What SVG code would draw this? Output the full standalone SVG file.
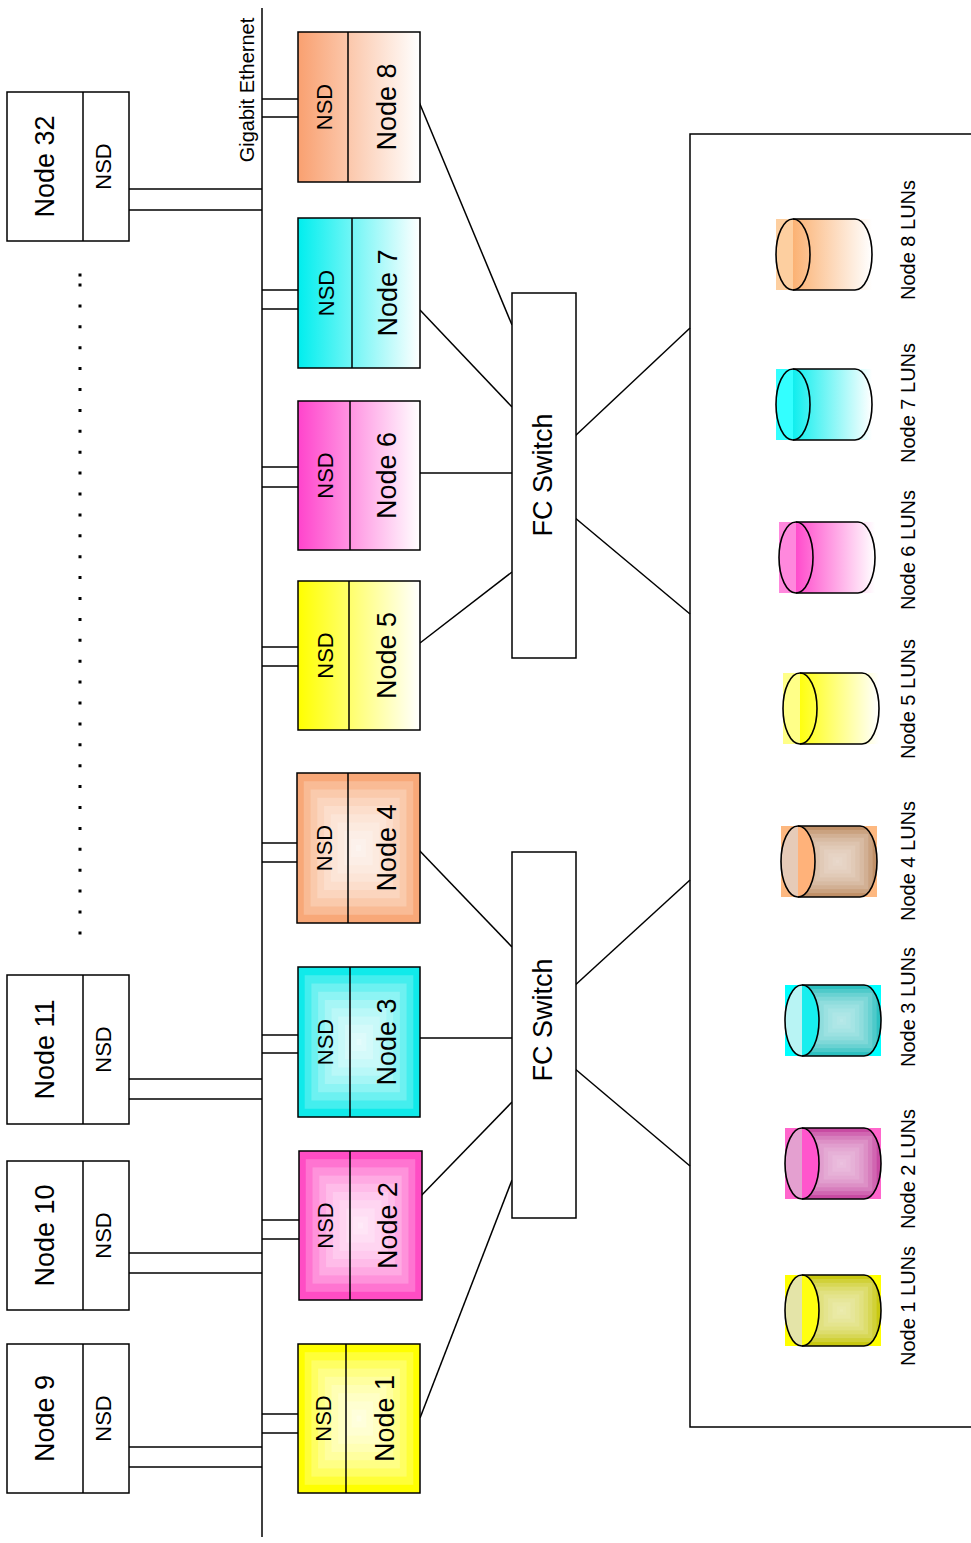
<svg xmlns="http://www.w3.org/2000/svg" width="971" height="1543" viewBox="0 0 971 1543">
<style>
.ln{stroke:#000;stroke-width:1.5;fill:none}
.bx{stroke:#000;stroke-width:1.5}
.ol{stroke:#000;stroke-width:1.6;fill:none}
text{font-family:"Liberation Sans",Arial,sans-serif;fill:#000;text-anchor:middle;dominant-baseline:central}
.t27{font-size:27px}
.t22{font-size:22px}
.t20{font-size:20px}
</style>
<defs>
<linearGradient id="ng8" x1="0" y1="0" x2="1" y2="0"><stop offset="0" stop-color="#f9a070"/><stop offset="1" stop-color="#ffffff"/></linearGradient>
<linearGradient id="ng7" x1="0" y1="0" x2="1" y2="0"><stop offset="0" stop-color="#00eeee"/><stop offset="1" stop-color="#ffffff"/></linearGradient>
<linearGradient id="ng6" x1="0" y1="0" x2="1" y2="0"><stop offset="0" stop-color="#ff44cc"/><stop offset="1" stop-color="#ffffff"/></linearGradient>
<linearGradient id="ng5" x1="0" y1="0" x2="1" y2="0"><stop offset="0" stop-color="#ffff00"/><stop offset="1" stop-color="#ffffff"/></linearGradient>
<linearGradient id="cg8" x1="0" y1="0" x2="1" y2="0"><stop offset="0" stop-color="#fdcfa0"/><stop offset="0.177" stop-color="#fdcfa0"/><stop offset="0.177" stop-color="#fbb274"/><stop offset="1" stop-color="#ffffff"/></linearGradient>
<linearGradient id="cg7" x1="0" y1="0" x2="1" y2="0"><stop offset="0" stop-color="#33ffff"/><stop offset="0.177" stop-color="#33ffff"/><stop offset="0.177" stop-color="#10eeee"/><stop offset="1" stop-color="#ffffff"/></linearGradient>
<linearGradient id="cg6" x1="0" y1="0" x2="1" y2="0"><stop offset="0" stop-color="#ff88dd"/><stop offset="0.177" stop-color="#ff88dd"/><stop offset="0.177" stop-color="#ff4ccc"/><stop offset="1" stop-color="#ffffff"/></linearGradient>
<linearGradient id="cg5" x1="0" y1="0" x2="1" y2="0"><stop offset="0" stop-color="#ffff88"/><stop offset="0.177" stop-color="#ffff88"/><stop offset="0.177" stop-color="#ffff10"/><stop offset="1" stop-color="#ffffff"/></linearGradient>
<g id="pyr" fill="#ffffff" fill-opacity="0.22">
<rect x="5.5" y="5.5" width="89" height="89"/>
<rect x="11" y="11" width="78" height="78"/>
<rect x="16.5" y="16.5" width="67" height="67"/>
<rect x="22" y="22" width="56" height="56"/>
<rect x="27.5" y="27.5" width="45" height="45"/>
<rect x="33" y="33" width="34" height="34"/>
<rect x="38.5" y="38.5" width="23" height="23"/>
<rect x="44" y="44" width="12" height="12"/>
<rect x="48" y="48" width="4" height="4"/>
</g>
<clipPath id="cc4"><path d="M798,826 H860 A17,35.5 0 0 1 860,897 H798 Z"/></clipPath>
<clipPath id="cc3"><path d="M802,985 H864 A17,35.5 0 0 1 864,1056 H802 Z"/></clipPath>
<clipPath id="cc2"><path d="M802,1128 H864 A17,35.5 0 0 1 864,1199 H802 Z"/></clipPath>
<clipPath id="cc1"><path d="M802,1275 H864 A17,35.5 0 0 1 864,1346 H802 Z"/></clipPath>
</defs>
<rect x="0" y="0" width="971" height="1543" fill="#ffffff"/>

<g id="connectors">
<line class="ln" x1="262" y1="8" x2="262" y2="1537"/>
<line class="ln" x1="129" y1="189" x2="262" y2="189"/>
<line class="ln" x1="129" y1="210" x2="262" y2="210"/>
<line class="ln" x1="129" y1="1079" x2="262" y2="1079"/>
<line class="ln" x1="129" y1="1099" x2="262" y2="1099"/>
<line class="ln" x1="129" y1="1253" x2="262" y2="1253"/>
<line class="ln" x1="129" y1="1273" x2="262" y2="1273"/>
<line class="ln" x1="129" y1="1447" x2="262" y2="1447"/>
<line class="ln" x1="129" y1="1467" x2="262" y2="1467"/>
<line class="ln" x1="262" y1="99" x2="298" y2="99"/>
<line class="ln" x1="262" y1="117" x2="298" y2="117"/>
<line class="ln" x1="262" y1="290" x2="298" y2="290"/>
<line class="ln" x1="262" y1="309" x2="298" y2="309"/>
<line class="ln" x1="262" y1="467" x2="298" y2="467"/>
<line class="ln" x1="262" y1="487" x2="298" y2="487"/>
<line class="ln" x1="262" y1="647" x2="298" y2="647"/>
<line class="ln" x1="262" y1="666" x2="298" y2="666"/>
<line class="ln" x1="262" y1="843" x2="297" y2="843"/>
<line class="ln" x1="262" y1="862" x2="297" y2="862"/>
<line class="ln" x1="262" y1="1035" x2="298" y2="1035"/>
<line class="ln" x1="262" y1="1053" x2="298" y2="1053"/>
<line class="ln" x1="262" y1="1220" x2="299" y2="1220"/>
<line class="ln" x1="262" y1="1239" x2="299" y2="1239"/>
<line class="ln" x1="262" y1="1414" x2="298" y2="1414"/>
<line class="ln" x1="262" y1="1433" x2="298" y2="1433"/>
<line class="ln" x1="417" y1="97" x2="512" y2="325"/>
<line class="ln" x1="420" y1="310" x2="512" y2="407"/>
<line class="ln" x1="420" y1="473" x2="512" y2="473"/>
<line class="ln" x1="420" y1="643" x2="512" y2="572"/>
<line class="ln" x1="574" y1="437" x2="690" y2="328"/>
<line class="ln" x1="574" y1="517" x2="690" y2="614"/>
<line class="ln" x1="417" y1="848" x2="512" y2="947"/>
<line class="ln" x1="420" y1="1038" x2="512" y2="1038"/>
<line class="ln" x1="417" y1="1200" x2="512" y2="1102"/>
<line class="ln" x1="420" y1="1418" x2="512" y2="1180"/>
<line class="ln" x1="572" y1="988" x2="690" y2="880"/>
<line class="ln" x1="574" y1="1068" x2="690" y2="1166"/>
</g>

<g id="ethernet-label">
<text class="t20" transform="translate(247,90) rotate(-90)">Gigabit Ethernet</text>
</g>

<g id="ellipsis">
<rect x="78.5" y="273.5" width="3" height="3" fill="#000"/>
<line x1="80" y1="283.5" x2="80" y2="935" stroke="#000" stroke-width="3" stroke-dasharray="3 17.9"/>
</g>

<g id="node32">
<rect class="bx" x="7" y="92" width="122" height="149" fill="#fff"/>
<line class="ln" x1="83" y1="92" x2="83" y2="241"/>
<text class="t27" transform="translate(44.5,166.5) rotate(-90)">Node 32</text>
<text class="t22" transform="translate(103.5,166.5) rotate(-90)">NSD</text>
</g>
<g id="node11">
<rect class="bx" x="7" y="975" width="122" height="149" fill="#fff"/>
<line class="ln" x1="83" y1="975" x2="83" y2="1124"/>
<text class="t27" transform="translate(44.5,1049.5) rotate(-90)">Node 11</text>
<text class="t22" transform="translate(103.5,1049.5) rotate(-90)">NSD</text>
</g>
<g id="node10">
<rect class="bx" x="7" y="1161" width="122" height="149" fill="#fff"/>
<line class="ln" x1="83" y1="1161" x2="83" y2="1310"/>
<text class="t27" transform="translate(44.5,1235.5) rotate(-90)">Node 10</text>
<text class="t22" transform="translate(103.5,1235.5) rotate(-90)">NSD</text>
</g>
<g id="node9">
<rect class="bx" x="7" y="1344" width="122" height="149" fill="#fff"/>
<line class="ln" x1="83" y1="1344" x2="83" y2="1493"/>
<text class="t27" transform="translate(44.5,1418.5) rotate(-90)">Node 9</text>
<text class="t22" transform="translate(103.5,1418.5) rotate(-90)">NSD</text>
</g>

<g id="node8">
<rect class="bx" x="298" y="32" width="122" height="150" fill="url(#ng8)"/>
<line class="ln" x1="348" y1="32" x2="348" y2="182"/>
<text class="t22" transform="translate(324.5,107) rotate(-90)">NSD</text>
<text class="t27" transform="translate(386.5,107) rotate(-90)">Node 8</text>
</g>
<g id="node7">
<rect class="bx" x="298" y="218" width="122" height="150" fill="url(#ng7)"/>
<line class="ln" x1="352" y1="218" x2="352" y2="368"/>
<text class="t22" transform="translate(326.5,293) rotate(-90)">NSD</text>
<text class="t27" transform="translate(388,293) rotate(-90)">Node 7</text>
</g>
<g id="node6">
<rect class="bx" x="298" y="401" width="122" height="149" fill="url(#ng6)"/>
<line class="ln" x1="350" y1="401" x2="350" y2="550"/>
<text class="t22" transform="translate(325.5,475.5) rotate(-90)">NSD</text>
<text class="t27" transform="translate(387,475.5) rotate(-90)">Node 6</text>
</g>
<g id="node5">
<rect class="bx" x="298" y="581" width="122" height="149" fill="url(#ng5)"/>
<line class="ln" x1="349" y1="581" x2="349" y2="730"/>
<text class="t22" transform="translate(325,655.5) rotate(-90)">NSD</text>
<text class="t27" transform="translate(386.5,655.5) rotate(-90)">Node 5</text>
</g>
<g id="node4">
<rect x="297" y="773" width="123" height="150" fill="#f8a878"/>
<use href="#pyr" transform="translate(297,773) scale(1.23,1.5)"/>
<rect class="bx" x="297" y="773" width="123" height="150" fill="none"/>
<line class="ln" x1="348" y1="773" x2="348" y2="923"/>
<text class="t22" transform="translate(324.5,848) rotate(-90)">NSD</text>
<text class="t27" transform="translate(386.5,848) rotate(-90)">Node 4</text>
</g>
<g id="node3">
<rect x="298" y="967" width="122" height="150" fill="#10eaea"/>
<use href="#pyr" transform="translate(298,967) scale(1.22,1.5)"/>
<rect class="bx" x="298" y="967" width="122" height="150" fill="none"/>
<line class="ln" x1="350" y1="967" x2="350" y2="1117"/>
<text class="t22" transform="translate(325.5,1042) rotate(-90)">NSD</text>
<text class="t27" transform="translate(387,1042) rotate(-90)">Node 3</text>
</g>
<g id="node2">
<rect x="299" y="1151" width="123" height="149" fill="#ff4dc4"/>
<use href="#pyr" transform="translate(299,1151) scale(1.23,1.49)"/>
<rect class="bx" x="299" y="1151" width="123" height="149" fill="none"/>
<line class="ln" x1="350" y1="1151" x2="350" y2="1300"/>
<text class="t22" transform="translate(325.5,1225.5) rotate(-90)">NSD</text>
<text class="t27" transform="translate(388,1225.5) rotate(-90)">Node 2</text>
</g>
<g id="node1">
<rect x="298" y="1344" width="122" height="149" fill="#ffff00"/>
<use href="#pyr" transform="translate(298,1344) scale(1.22,1.49)"/>
<rect class="bx" x="298" y="1344" width="122" height="149" fill="none"/>
<line class="ln" x1="346" y1="1344" x2="346" y2="1493"/>
<text class="t22" transform="translate(323,1418.5) rotate(-90)">NSD</text>
<text class="t27" transform="translate(385,1418.5) rotate(-90)">Node 1</text>
</g>

<g id="fcswitch1">
<rect class="bx" x="512" y="293" width="64" height="365" fill="#fff"/>
<text class="t27" transform="translate(542.5,475) rotate(-90)">FC Switch</text>
</g>
<g id="fcswitch2">
<rect class="bx" x="512" y="852" width="64" height="366" fill="#fff"/>
<text class="t27" transform="translate(542.5,1020) rotate(-90)">FC Switch</text>
</g>

<g id="storage">
<path class="bx" fill="none" d="M975,134 H690 V1427 H975"/>
</g>

<g id="luns8">
<rect x="776" y="219" width="96" height="71" fill="url(#cg8)"/>
<ellipse class="ol" cx="793" cy="254.5" rx="17" ry="35.5"/>
<path class="ol" d="M793,219 H855 A17,35.5 0 0 1 855,290 H793"/>
<text class="t20" transform="translate(908,240) rotate(-90)">Node 8 LUNs</text>
</g>
<g id="luns7">
<rect x="776" y="369" width="96" height="71" fill="url(#cg7)"/>
<ellipse class="ol" cx="793" cy="404.5" rx="17" ry="35.5"/>
<path class="ol" d="M793,369 H855 A17,35.5 0 0 1 855,440 H793"/>
<text class="t20" transform="translate(908,403) rotate(-90)">Node 7 LUNs</text>
</g>
<g id="luns6">
<rect x="779" y="522" width="96" height="71" fill="url(#cg6)"/>
<ellipse class="ol" cx="796" cy="557.5" rx="17" ry="35.5"/>
<path class="ol" d="M796,522 H858 A17,35.5 0 0 1 858,593 H796"/>
<text class="t20" transform="translate(908,550) rotate(-90)">Node 6 LUNs</text>
</g>
<g id="luns5">
<rect x="783" y="673" width="96" height="71" fill="url(#cg5)"/>
<ellipse class="ol" cx="800" cy="708.5" rx="17" ry="35.5"/>
<path class="ol" d="M800,673 H862 A17,35.5 0 0 1 862,744 H800"/>
<text class="t20" transform="translate(908,699) rotate(-90)">Node 5 LUNs</text>
</g>
<g id="luns4">
<rect x="781" y="826" width="96" height="71" fill="#fdb880"/>
<g clip-path="url(#cc4)"><rect x="798" y="826" width="79" height="71" fill="#c09068"/><use href="#pyr" opacity="0.75" transform="translate(798,826) scale(0.79,0.71)"/></g>
<path d="M798,826 A17,35.5 0 0 0 798,897 Z" fill="#e6cbb8"/>
<path d="M798,826 A17,35.5 0 0 1 798,897 Z" fill="#ffb27a"/>
<ellipse class="ol" cx="798" cy="861.5" rx="17" ry="35.5"/>
<path class="ol" d="M798,826 H860 A17,35.5 0 0 1 860,897 H798"/>
<text class="t20" transform="translate(908,861) rotate(-90)">Node 4 LUNs</text>
</g>
<g id="luns3">
<rect x="785" y="985" width="96" height="71" fill="#00ffff"/>
<g clip-path="url(#cc3)"><rect x="802" y="985" width="79" height="71" fill="#2cc0c0"/><use href="#pyr" opacity="0.75" transform="translate(802,985) scale(0.79,0.71)"/></g>
<path d="M802,985 A17,35.5 0 0 0 802,1056 Z" fill="#b8f4f4"/>
<path d="M802,985 A17,35.5 0 0 1 802,1056 Z" fill="#18eeee"/>
<ellipse class="ol" cx="802" cy="1020.5" rx="17" ry="35.5"/>
<path class="ol" d="M802,985 H864 A17,35.5 0 0 1 864,1056 H802"/>
<text class="t20" transform="translate(908,1007) rotate(-90)">Node 3 LUNs</text>
</g>
<g id="luns2">
<rect x="785" y="1128" width="96" height="71" fill="#ff66cc"/>
<g clip-path="url(#cc2)"><rect x="802" y="1128" width="79" height="71" fill="#c84aa2"/><use href="#pyr" opacity="0.75" transform="translate(802,1128) scale(0.79,0.71)"/></g>
<path d="M802,1128 A17,35.5 0 0 0 802,1199 Z" fill="#e4a0d0"/>
<path d="M802,1128 A17,35.5 0 0 1 802,1199 Z" fill="#ff55cc"/>
<ellipse class="ol" cx="802" cy="1163.5" rx="17" ry="35.5"/>
<path class="ol" d="M802,1128 H864 A17,35.5 0 0 1 864,1199 H802"/>
<text class="t20" transform="translate(908,1169) rotate(-90)">Node 2 LUNs</text>
</g>
<g id="luns1">
<rect x="785" y="1275" width="96" height="71" fill="#ffff00"/>
<g clip-path="url(#cc1)"><rect x="802" y="1275" width="79" height="71" fill="#c8c810"/><use href="#pyr" opacity="0.75" transform="translate(802,1275) scale(0.79,0.71)"/></g>
<path d="M802,1275 A17,35.5 0 0 0 802,1346 Z" fill="#e4e4a8"/>
<path d="M802,1275 A17,35.5 0 0 1 802,1346 Z" fill="#ffff10"/>
<ellipse class="ol" cx="802" cy="1310.5" rx="17" ry="35.5"/>
<path class="ol" d="M802,1275 H864 A17,35.5 0 0 1 864,1346 H802"/>
<text class="t20" transform="translate(908,1306) rotate(-90)">Node 1 LUNs</text>
</g>
</svg>
